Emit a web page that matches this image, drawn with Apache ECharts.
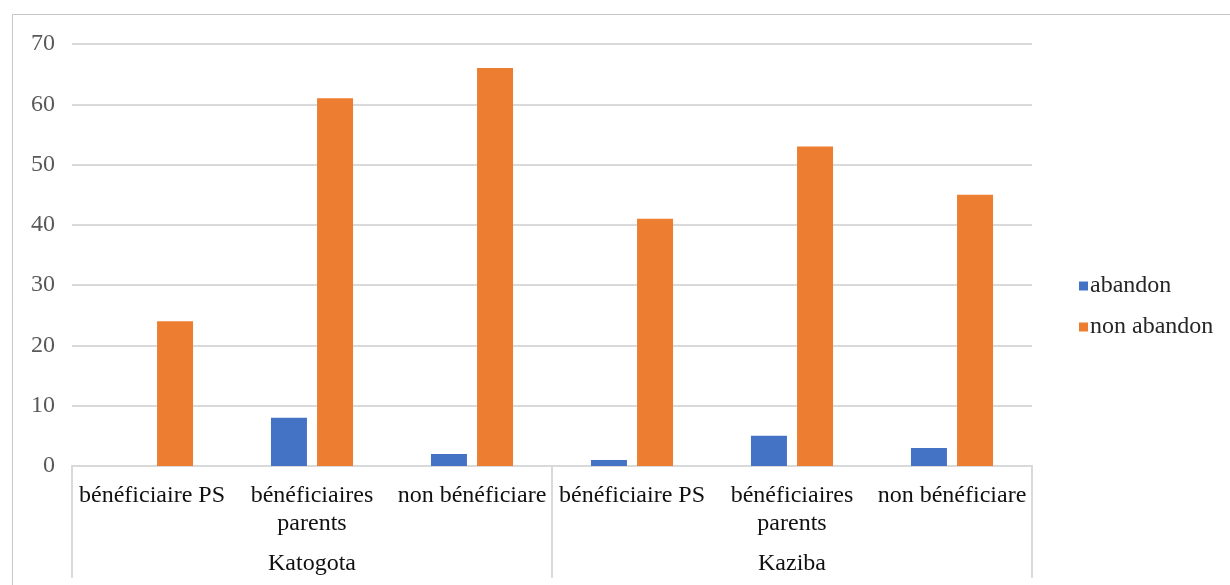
<!DOCTYPE html>
<html>
<head>
<meta charset="utf-8">
<script src="https://cdn.jsdelivr.net/npm/echarts@6/dist/echarts.min.js"></script>
<style>
  html, body { margin: 0; padding: 0; background: #fff; }
  #chart { width: 1230px; height: 585px; }
</style>
</head>
<body>
<div id="chart"></div>
<script>
// Sub-categories (inner axis level) and their sites (outer axis level)
const categories = [
  'bénéficiaire PS', 'bénéficiaires\nparents', 'non bénéficiare',
  'bénéficiaire PS', 'bénéficiaires\nparents', 'non bénéficiare'
];
const sites = ['Katogota', 'Kaziba'];

// Counts per sub-category
const abandon = [0, 8, 2, 1, 5, 3];
const nonAbandon = [24, 61, 66, 41, 53, 45];

// Value axis ticks
const yMin = 0, yMax = 70, yStep = 10;

const FONT = '"Liberation Serif", "Times New Roman", serif';
const FS = 24;
const gridColor = '#d9d9d9';

const chart = echarts.init(document.getElementById('chart'), null, { renderer: 'canvas' });

chart.setOption({
  backgroundColor: '#ffffff',
  animation: false,
  textStyle: { fontFamily: FONT },
  graphic: [{
    type: 'rect',
    shape: { x: 12.5, y: 14.5, width: 1400, height: 800 },
    style: { fill: 'none', stroke: '#c6c6c6', lineWidth: 1 },
    silent: true,
    z: -10
  }],
  legend: {
    orient: 'vertical',
    left: 1074,
    top: 269,
    itemWidth: 9,
    itemHeight: 9,
    itemGap: 17,
    icon: 'rect',
    textStyle: { fontFamily: FONT, fontSize: FS, color: '#262626', padding: [0, 0, 0, -3] },
    data: ['abandon', 'non abandon']
  },
  grid: { left: 72, right: 198, top: 44, bottom: 119, containLabel: false },
  xAxis: [
    {
      type: 'category',
      data: categories,
      position: 'bottom',
      axisLine: { show: true, lineStyle: { color: gridColor, width: 2 } },
      axisTick: { show: false },
      axisLabel: {
        interval: 0,
        margin: 16,
        fontFamily: FONT,
        fontSize: FS,
        lineHeight: 28,
        color: '#111111'
      },
      splitLine: { show: false }
    },
    {
      type: 'category',
      data: sites,
      position: 'bottom',
      axisLine: { show: false },
      axisTick: {
        show: true,
        interval: 0,
        length: 112,
        lineStyle: { color: gridColor, width: 2 }
      },
      axisLabel: {
        interval: 0,
        margin: 86,
        fontFamily: FONT,
        fontSize: FS,
        color: '#111111'
      },
      splitLine: { show: false }
    }
  ],
  yAxis: {
    type: 'value',
    min: yMin,
    max: yMax,
    interval: yStep,
    axisLine: { show: false },
    axisTick: { show: false },
    axisLabel: {
      margin: 17,
      fontFamily: FONT,
      fontSize: FS,
      color: '#595959'
    },
    splitLine: { show: true, lineStyle: { color: gridColor, width: 2 } }
  },
  series: [
    {
      name: 'abandon',
      type: 'bar',
      data: abandon,
      barWidth: 36,
      barGap: '28%',
      itemStyle: { color: '#4472C4' }
    },
    {
      name: 'non abandon',
      type: 'bar',
      data: nonAbandon,
      barWidth: 36,
      barGap: '28%',
      itemStyle: { color: '#ED7D31' }
    }
  ]
});
</script>
</body>
</html>
